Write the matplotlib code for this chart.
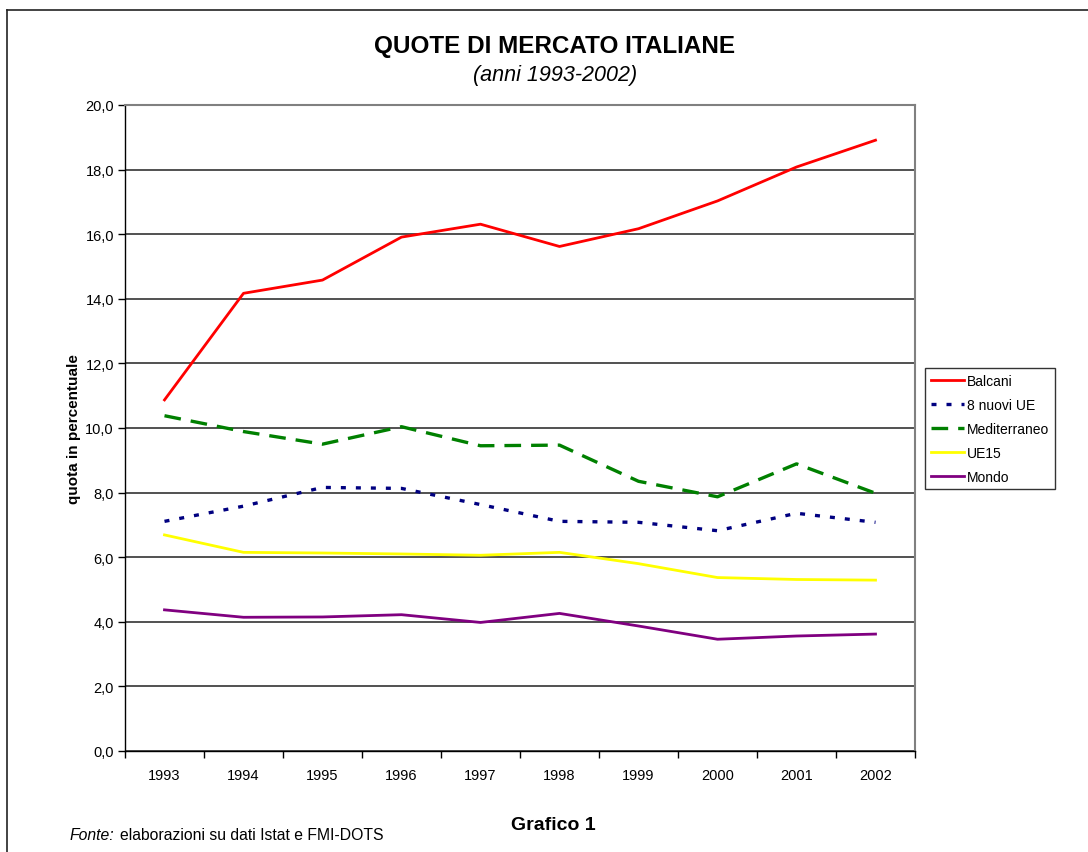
import matplotlib
matplotlib.use("Agg")
import matplotlib.pyplot as plt
from matplotlib.lines import Line2D
from matplotlib.ticker import FixedLocator, FuncFormatter

plt.rcParams['font.family'] = ['Liberation Sans', 'DejaVu Sans']

anni = ['1993', '1994', '1995', '1996', '1997', '1998', '1999', '2000', '2001', '2002']
balcani = [10.87, 14.17, 14.58, 15.91, 16.31, 15.62, 16.17, 17.03, 18.08, 18.91]
nuovi_ue = [7.11, 7.58, 8.16, 8.13, 7.63, 7.11, 7.08, 6.82, 7.36, 7.08]
mediterraneo = [10.38, 9.89, 9.50, 10.04, 9.45, 9.47, 8.35, 7.87, 8.89, 7.98]
ue15 = [6.69, 6.15, 6.13, 6.10, 6.06, 6.15, 5.80, 5.37, 5.31, 5.29]
mondo = [4.37, 4.14, 4.15, 4.22, 3.98, 4.26, 3.87, 3.46, 3.56, 3.62]

fig = plt.figure(figsize=(10.88, 8.53), dpi=100)
ax = fig.add_axes([125 / 1088, 1 - 752 / 853, 790 / 1088, 646 / 853])

x = list(range(len(anni)))
lw = 2.0
ax.plot(x, balcani, color='#FF0000', lw=lw, label='Balcani', zorder=3)
ax.plot(x, nuovi_ue, color='#000080', lw=2.4, dashes=(1.5, 3.0), label='8 nuovi UE', zorder=3)
ax.plot(x, mediterraneo, color='#008000', lw=2.4, dashes=(5.0, 3.0), label='Mediterraneo', zorder=3)
ax.plot(x, ue15, color='#FFFF00', lw=lw, label='UE15', zorder=3)
ax.plot(x, mondo, color='#800080', lw=lw, label='Mondo', zorder=3)

ax.set_xlim(-0.5, len(anni) - 0.5)
ax.set_ylim(0, 20)
ax.set_yticks([i * 2 for i in range(11)])
ax.yaxis.set_major_formatter(FuncFormatter(lambda v, p: f"{v:.1f}".replace('.', ',')))
ax.set_xticks(x)
ax.set_xticklabels(anni)
ax.xaxis.set_minor_locator(FixedLocator([i + 0.5 for i in range(-1, len(anni))]))
ax.tick_params(axis='x', which='major', length=0, pad=12, labelsize=10.5)
ax.tick_params(axis='x', which='minor', length=5, width=1, direction='out', color='black')
ax.tick_params(axis='y', length=5, width=1, direction='out', labelsize=10.5, pad=3)

ax.grid(axis='y', color='#333333', lw=1.2, zorder=1)
for s in ['left', 'bottom']:
    ax.spines[s].set_color('black')
    ax.spines[s].set_linewidth(1.0)
for s in ['top', 'right']:
    ax.spines[s].set_color('#808080')
    ax.spines[s].set_linewidth(1.5)

ax.set_ylabel('quota in percentuale', fontsize=11, fontweight='bold')
ax.yaxis.set_label_coords((81 - 125) / 790, 0.5)

leg = ax.legend(loc='upper left', bbox_to_anchor=(925 / 1088, 1 - 369 / 853), bbox_transform=fig.transFigure,
                frameon=True, fancybox=False, fontsize=10, handlelength=2.4, handletextpad=0.25,
                borderpad=0.4, labelspacing=0.72, borderaxespad=0)
leg.get_frame().set_edgecolor('black')
leg.get_frame().set_linewidth(1.0)

fig.text(555 / 1088, 1 - 47 / 853, 'QUOTE DI MERCATO ITALIANE', ha='center', va='center',
         fontsize=17.5, fontweight='bold')
fig.text(555 / 1088, 1 - 75 / 853, '(anni 1993-2002)', ha='center', va='center',
         fontsize=15.5, style='italic')
fig.text(553 / 1088, 1 - 826 / 853, 'Grafico 1', ha='center', va='center', fontsize=14, fontweight='bold')
fig.text(70 / 1088, 1 - 836 / 853, 'Fonte:', ha='left', va='center', fontsize=11.3, style='italic')
fig.text(120 / 1088, 1 - 836 / 853, 'elaborazioni su dati Istat e FMI-DOTS', ha='left', va='center', fontsize=11.3)

# cornice della figura (solo lati visibili)
fig.add_artist(Line2D([7 / 1088, 7 / 1088], [0, 1 - 11 / 853], transform=fig.transFigure, color='#222222', lw=1.2))
fig.add_artist(Line2D([7 / 1088, 1], [1 - 11 / 853, 1 - 11 / 853], transform=fig.transFigure, color='#222222', lw=1.2))

fig.savefig('out.png', dpi=100)
